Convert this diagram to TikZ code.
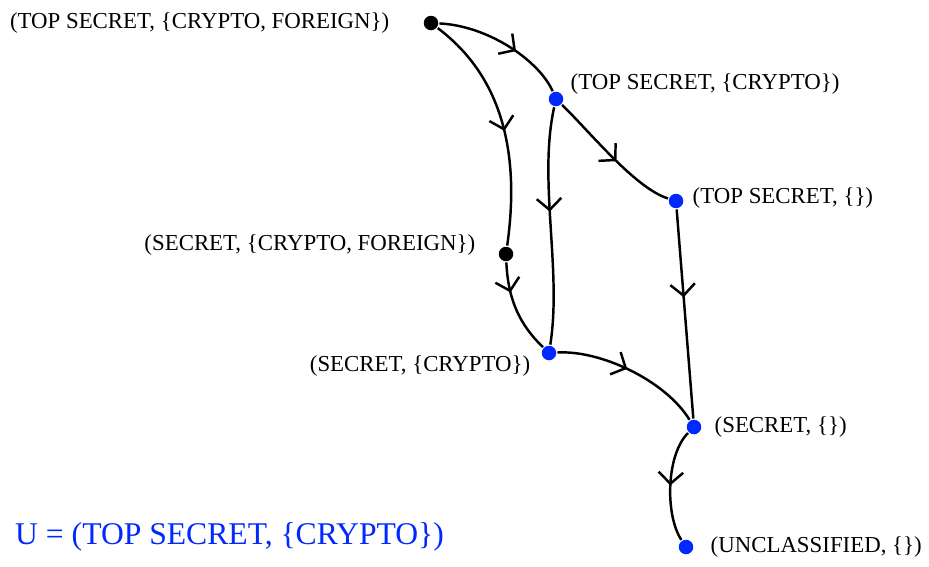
\documentclass[tikz,border=0pt]{standalone}
\usepackage{fontspec}
\setmainfont{Liberation Serif}
\usetikzlibrary{arrows.meta,decorations.markings,positioning}
\definecolor{lvblue}{RGB}{0,40,255}
\tikzset{
	dot/.style={circle,fill=#1,inner sep=0pt,minimum size=0.29cm},
	dot/.default=black,
	lab/.style={inner sep=0pt,font=\fontsize{13}{15}\selectfont},
	flow/.style={postaction={decorate},decoration={markings,
		mark=at position #1 with {\arrow{Straight Barb[length=6.5pt,width=14pt]}}}},
	flow/.default=0.5
}
\begin{document}
\begin{tikzpicture}[line width=1.4pt]
		\useasboundingbox (0,0) rectangle (18.58,-11.34);
		\node[dot] (tscf) at (8.62,-0.46) {};
		\node[dot=lvblue] (tsc) at (11.12,-1.98) {};
		\node[dot=lvblue] (ts) at (13.52,-4.02) {};
		\node[dot] (scf) at (10.12,-5.08) {};
		\node[dot=lvblue] (sc) at (10.98,-7.06) {};
		\node[dot=lvblue] (s) at (13.88,-8.54) {};
		\node[dot=lvblue] (u) at (13.72,-10.94) {};
		\node[lab,left=0.64cm of tscf] (tscf-l) {(TOP SECRET, \{CRYPTO, FOREIGN\})};
		\node[lab,right=0.1cm of tsc,yshift=0.3cm] (tsc-l) {(TOP SECRET, \{CRYPTO\})};
		\node[lab,right=0.14cm of ts,yshift=0.06cm] (ts-l) {(TOP SECRET, \{\})};
		\node[lab,left=0.42cm of scf,yshift=0.18cm] (scf-l) {(SECRET, \{CRYPTO, FOREIGN\})};
		\node[lab,left=0.18cm of sc,yshift=-0.26cm] (sc-l) {(SECRET, \{CRYPTO\})};
		\node[lab,right=0.22cm of s] (s-l) {(SECRET, \{\})};
		\node[lab,right=0.3cm of u] (u-l) {(UNCLASSIFIED, \{\})};
		\draw[flow=0.6] (tscf) .. controls (9.8,-0.52) and (10.8,-1.24) .. (tsc);
		\draw[flow=0.52] (tscf) .. controls (9.6,-1.2) and (10.5,-2.4) .. (scf);
		\draw[flow=0.44] (tsc) .. controls (10.76,-3.6) and (11.24,-5.4) .. (sc);
		\draw[flow=0.55] (tsc) .. controls (11.8,-2.64) and (12.7,-3.76) .. (ts);
		\draw[flow=0.42] (ts) -- (s);
		\draw[flow=0.32] (scf) .. controls (10.16,-6) and (10.4,-6.5) .. (sc);
		\draw[flow=0.47] (sc) .. controls (12,-7) and (13.3,-7.6) .. (s);
		\draw[flow] (s) .. controls (13.32,-9.1) and (13.3,-10.3) .. (u);
		\node[lvblue,anchor=west,inner sep=0pt,font=\fontsize{18}{21}\selectfont] (user)
			at (0.28,-10.74) {U = (TOP SECRET, \{CRYPTO\})};
\end{tikzpicture}
\end{document}
